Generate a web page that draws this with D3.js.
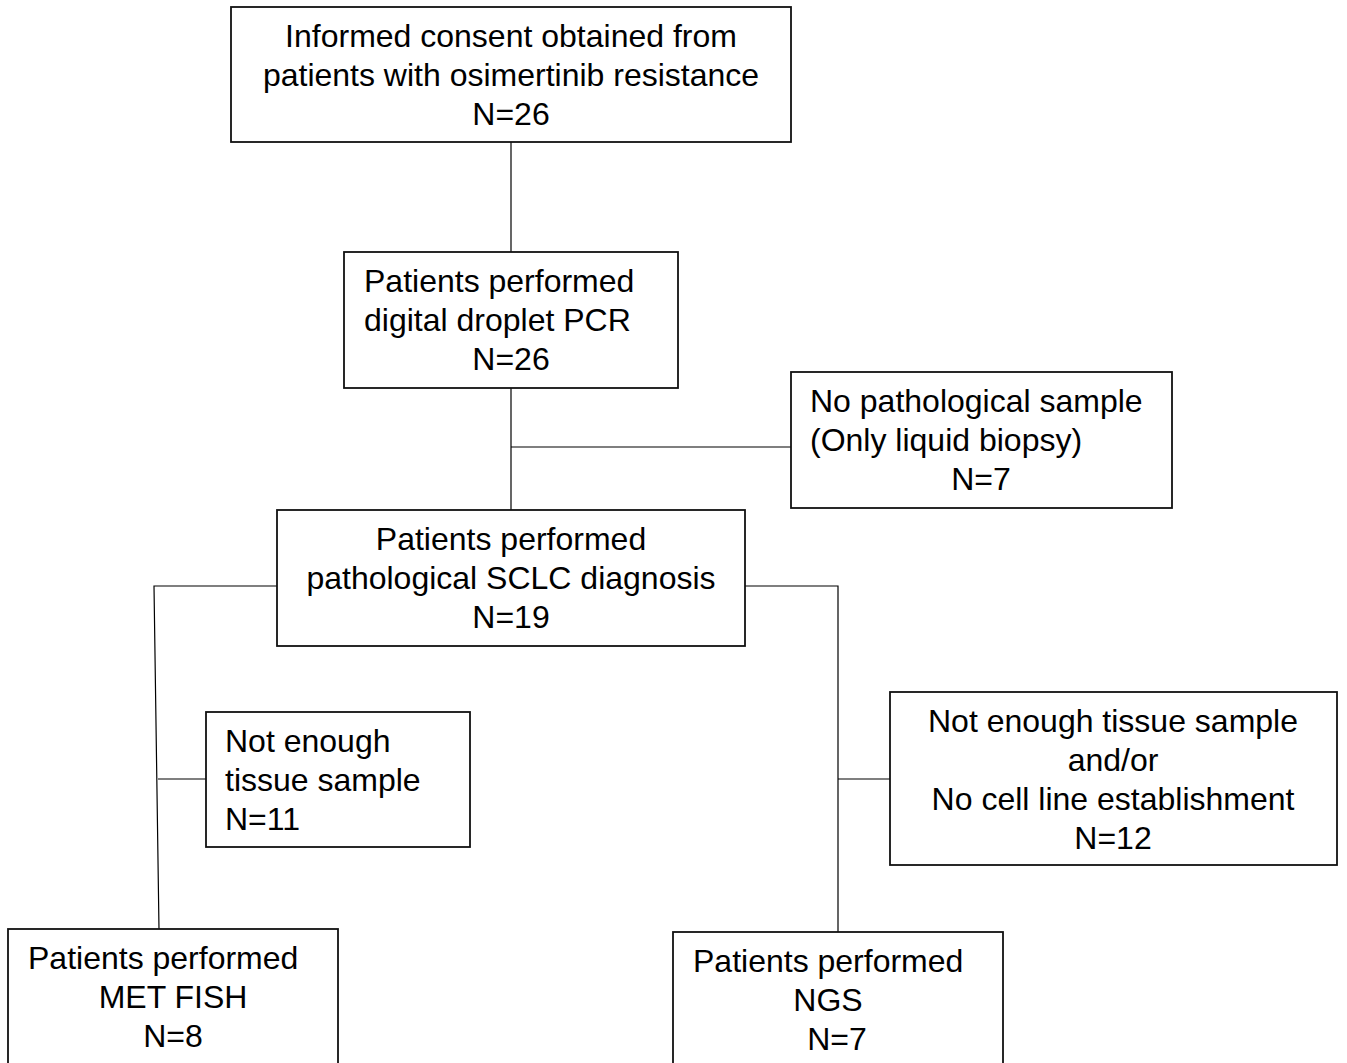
<!DOCTYPE html>
<html>
<head>
<meta charset="utf-8">
<script src="https://cdn.jsdelivr.net/npm/d3@7"></script>
<style>
  html, body { margin: 0; padding: 0; background: #fff; }
  svg { display: block; }
</style>
</head>
<body>
<div class="canvas"></div>
<script>
// box texts (without the N line) and patient counts
const boxTexts = [
    ["Informed consent obtained from", "patients with osimertinib resistance"],
    ["Patients performed", "digital droplet PCR"],
    ["No pathological sample", "(Only liquid biopsy)"],
    ["Patients performed", "pathological SCLC diagnosis"],
    ["Not enough", "tissue sample"],
    ["Not enough tissue sample", "and/or", "No cell line establishment"],
    ["Patients performed", "MET FISH"],
    ["Patients performed", "NGS"]
];
const boxCounts = [26, 26, 7, 19, 11, 12, 8, 7];

// layout: box rect + x and anchor of every text line (last = N line)
const layout = [
    { x: 231, y: 7, w: 560, h: 135, pos: [[511, "middle"], [511, "middle"], [511, "middle"]] },
    { x: 344, y: 252, w: 334, h: 136, pos: [[364, "start"], [364, "start"], [511, "middle"]] },
    { x: 791, y: 372, w: 381, h: 136, pos: [[810, "start"], [810, "start"], [981, "middle"]] },
    { x: 277, y: 510, w: 468, h: 136, pos: [[511, "middle"], [511, "middle"], [511, "middle"]] },
    { x: 206, y: 712, w: 264, h: 135, pos: [[225, "start"], [225, "start"], [225, "start"]] },
    { x: 890, y: 692, w: 447, h: 173, pos: [[1113, "middle"], [1113, "middle"], [1113, "middle"], [1113, "middle"]] },
    { x: 8, y: 929, w: 330, h: 150, pos: [[28, "start"], [173, "middle"], [173, "middle"]] },
    { x: 673, y: 932, w: 330, h: 150, pos: [[693, "start"], [828, "middle"], [837, "middle"]] }
];

const connectors = [
    [[511, 142], [511, 252]],
    [[511, 388], [511, 510]],
    [[511, 447], [791, 447]],
    [[277, 586], [154, 586], [159, 929]],
    [[158, 779], [206, 779]],
    [[745, 586], [838, 586], [838, 932]],
    [[838, 779], [890, 779]]
];

const dims = { width: 1347, height: 1063 };
const fontSize = 32;
const lineGap = 39;

const svg = d3
    .select(".canvas")
    .append("svg")
    .attr("width", dims.width)
    .attr("height", dims.height);

const lineGen = d3.line();

svg.append("g")
    .selectAll("path")
    .data(connectors)
    .enter()
    .append("path")
    .attr("d", lineGen)
    .attr("fill", "none")
    .attr("stroke", "#000")
    .attr("stroke-width", 1.2);

const boxes = boxTexts.map((t, i) => ({
    lines: t.concat([`N=${boxCounts[i]}`]),
    ...layout[i]
}));

const groups = svg
    .append("g")
    .selectAll("g")
    .data(boxes)
    .enter()
    .append("g");

groups
    .append("rect")
    .attr("x", (d) => d.x)
    .attr("y", (d) => d.y)
    .attr("width", (d) => d.w)
    .attr("height", (d) => d.h)
    .attr("fill", "#fff")
    .attr("stroke", "#111")
    .attr("stroke-width", 1.8);

groups
    .selectAll("text")
    .data((d) => d.lines.map((s, j) => ({ s, j, box: d })))
    .enter()
    .append("text")
    .attr("x", (d) => d.box.pos[d.j][0])
    .attr("y", (d) => d.box.y + 40 + d.j * lineGap)
    .attr("text-anchor", (d) => d.box.pos[d.j][1])
    .attr("font-family", "Liberation Sans, Arial, sans-serif")
    .attr("font-size", fontSize)
    .attr("fill", "#000")
    .text((d) => d.s);
</script>
</body>
</html>
